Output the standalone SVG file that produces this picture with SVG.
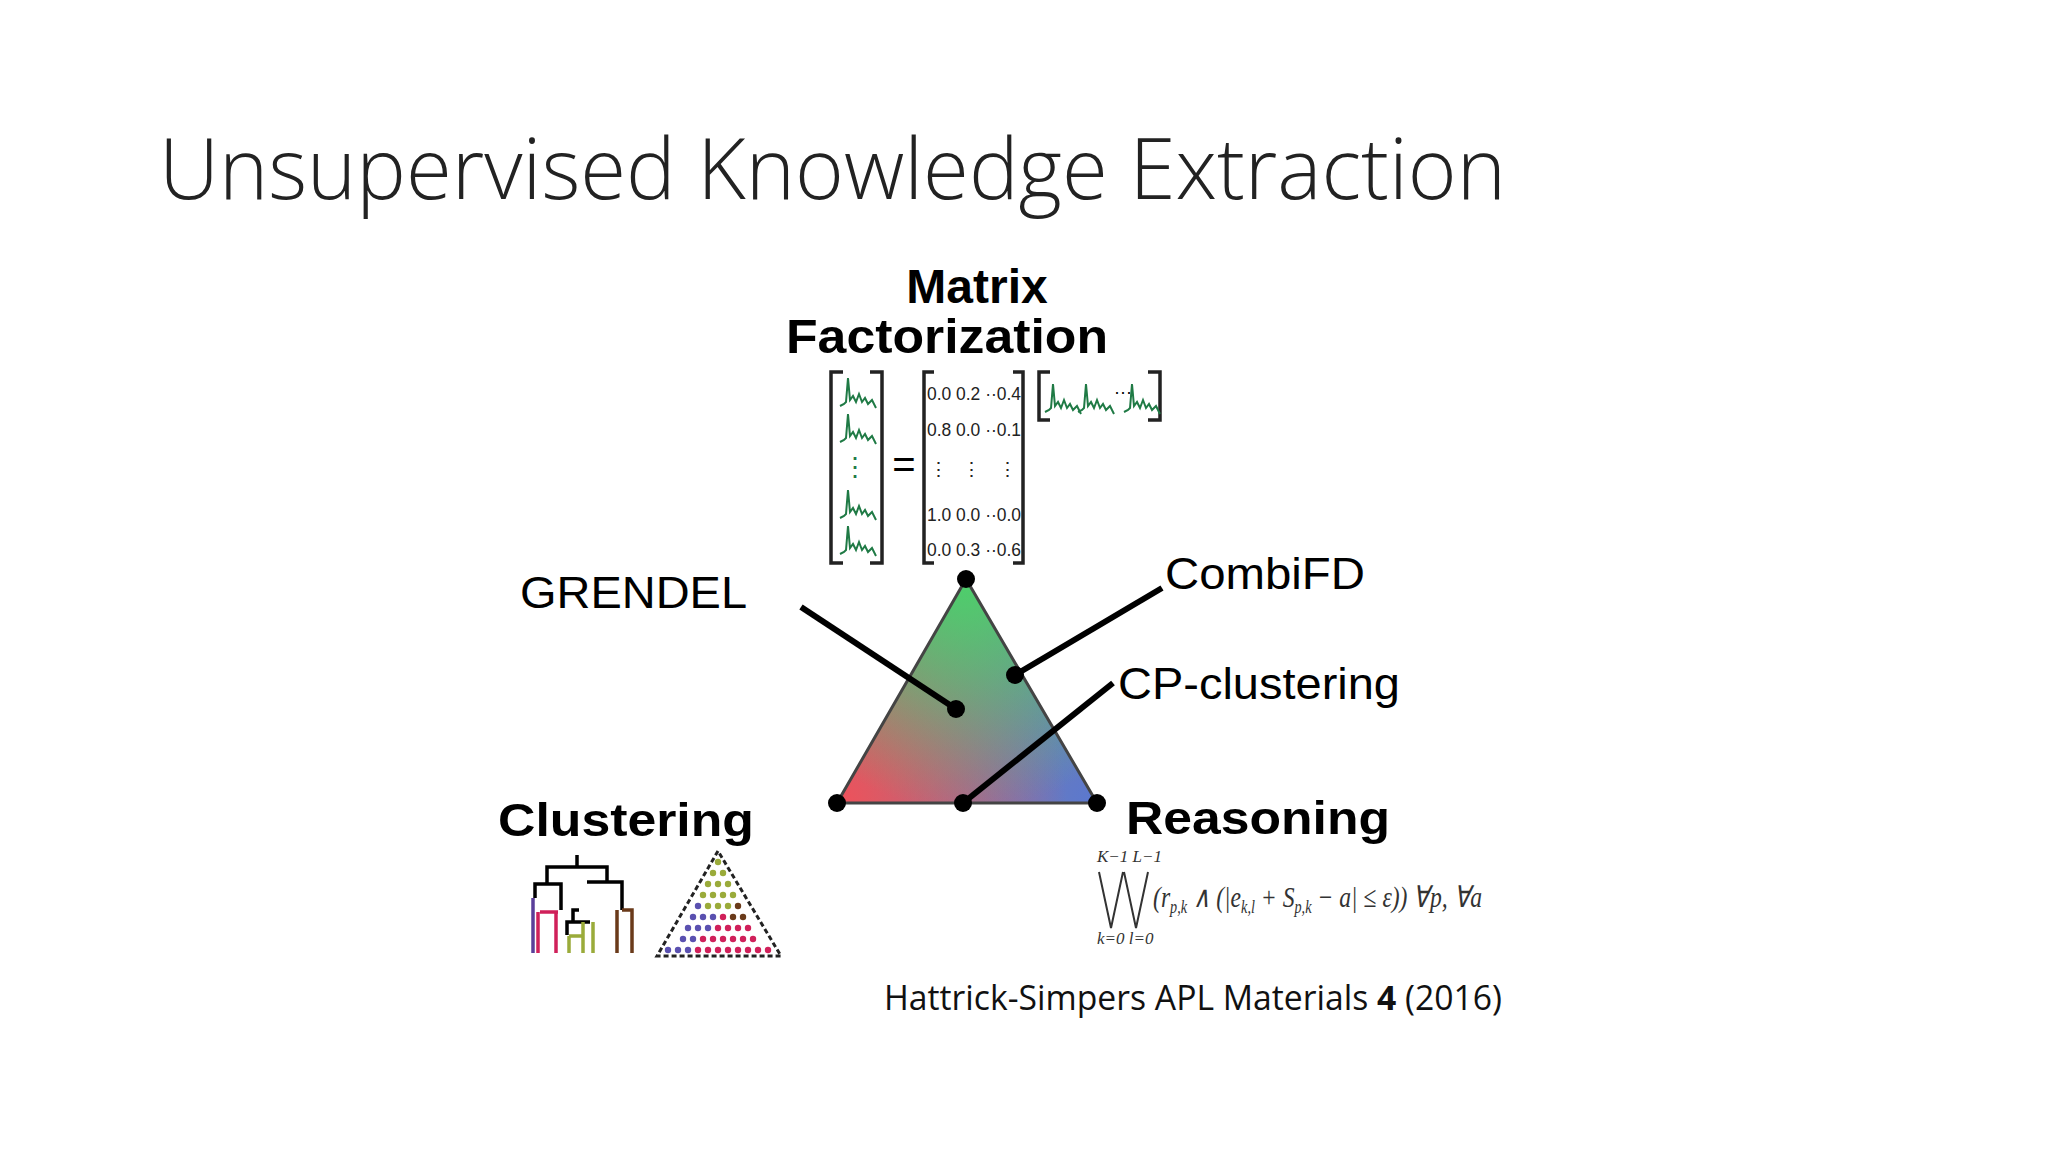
<svg xmlns="http://www.w3.org/2000/svg" width="2048" height="1152" viewBox="0 0 2048 1152">
<style>
.b{font-family:"Liberation Sans",Arial,sans-serif;font-weight:bold;fill:#000}
.r{font-family:"Liberation Sans",Arial,sans-serif;fill:#000}
.n{font-family:"Liberation Sans",sans-serif;font-size:19px;fill:#222}
.m{font-family:"Liberation Serif",serif;font-style:italic;fill:#333}
.ln{stroke:#000;stroke-width:6;fill:none}
.br{stroke:#222;stroke-width:3.5;fill:none}
.sp{stroke:#1f7a45;stroke-width:2;fill:none}
</style>
<defs>
<radialGradient id="gG" cx="966" cy="579" r="230" gradientUnits="userSpaceOnUse"><stop offset="0" stop-color="#4cd06a"/><stop offset="1" stop-color="#4cd06a" stop-opacity="0"/></radialGradient>
<radialGradient id="gR" cx="837" cy="803" r="230" gradientUnits="userSpaceOnUse"><stop offset="0" stop-color="#f0505a"/><stop offset="1" stop-color="#f0505a" stop-opacity="0"/></radialGradient>
<radialGradient id="gB" cx="1097" cy="803" r="230" gradientUnits="userSpaceOnUse"><stop offset="0" stop-color="#5a78d0"/><stop offset="1" stop-color="#5a78d0" stop-opacity="0"/></radialGradient>
<g id="spec"><path class="sp" d="M0,30 L4,28 6,26 8,2 10,24 13,20 16,26 19,18 22,26 25,22 28,28 32,24 36,32"/></g>
<circle id="d" r="3.2"/>
</defs>
<rect width="2048" height="1152" fill="#fff"/>
<text x="159" y="199" font-family="'Open Sans','Liberation Sans',sans-serif" font-weight="300" font-size="84" textLength="1347" lengthAdjust="spacingAndGlyphs" fill="#222">Unsupervised Knowledge Extraction</text>

<g id="matrix">
<text class="b" x="977" y="303" font-size="48" text-anchor="middle">Matrix</text>
<text class="b" x="947" y="353" font-size="48" text-anchor="middle" textLength="322" lengthAdjust="spacingAndGlyphs">Factorization</text>
<path class="br" d="M843,372 H831 V563 H843 M870,372 H882 V563 H870"/>
<use href="#spec" x="840" y="376"/><use href="#spec" x="840" y="412"/>
<text x="855" y="476" font-family="Liberation Sans" font-size="26" fill="#1f7a45" text-anchor="middle">⋮</text>
<use href="#spec" x="840" y="488"/><use href="#spec" x="840" y="524"/>
<text x="904" y="478" class="r" font-size="40" text-anchor="middle">=</text>
<path class="br" d="M934,372 H924 V563 H934 M1013,372 H1023 V563 H1013"/>
<text class="n" x="927" y="400" textLength="94" lengthAdjust="spacingAndGlyphs">0.0 0.2 ··0.4</text>
<text class="n" x="927" y="436" textLength="94" lengthAdjust="spacingAndGlyphs">0.8 0.0 ··0.1</text>
<text class="n" x="938" y="476" text-anchor="middle">⋮</text><text class="n" x="971" y="476" text-anchor="middle">⋮</text><text class="n" x="1007" y="476" text-anchor="middle">⋮</text>
<text class="n" x="927" y="521" textLength="94" lengthAdjust="spacingAndGlyphs">1.0 0.0 ··0.0</text>
<text class="n" x="927" y="556" textLength="94" lengthAdjust="spacingAndGlyphs">0.0 0.3 ··0.6</text>
<path class="br" d="M1050,372 H1039 V420 H1050 M1148,372 H1160 V420 H1148"/>
<use href="#spec" x="1045" y="382"/><use href="#spec" x="1078" y="382"/>
<text x="1114" y="398" font-size="18" class="r">···</text>
<use href="#spec" x="1124" y="382"/>
</g>

<g id="triangle">
<polygon points="966,579 837,803 1097,803" fill="#8a8090"/>
<polygon points="966,579 837,803 1097,803" fill="url(#gB)"/>
<polygon points="966,579 837,803 1097,803" fill="url(#gR)"/>
<polygon points="966,579 837,803 1097,803" fill="url(#gG)" stroke="#444" stroke-width="3"/>
</g>

<g id="connectors">
<line class="ln" x1="801" y1="607" x2="956" y2="709"/>
<line class="ln" x1="1162" y1="588" x2="1015" y2="675"/>
<line class="ln" x1="1113" y1="683" x2="963" y2="803"/>
<circle cx="966" cy="579" r="9"/><circle cx="837" cy="803" r="9"/><circle cx="1097" cy="803" r="9"/><circle cx="963" cy="803" r="9"/>
<circle cx="956" cy="709" r="9"/><circle cx="1015" cy="675" r="9"/>
</g>

<g id="labels">
<text class="r" x="520" y="608" font-size="44" textLength="227" lengthAdjust="spacingAndGlyphs">GRENDEL</text>
<text class="r" x="1165" y="589" font-size="44" textLength="200" lengthAdjust="spacingAndGlyphs">CombiFD</text>
<text class="r" x="1118" y="699" font-size="44" textLength="282" lengthAdjust="spacingAndGlyphs">CP-clustering</text>
<text class="b" x="498" y="836" font-size="47" textLength="256" lengthAdjust="spacingAndGlyphs">Clustering</text>
<text class="b" x="1126" y="834" font-size="47" textLength="264" lengthAdjust="spacingAndGlyphs">Reasoning</text>
</g>

<g id="dendrogram" stroke-width="3.5" fill="none">
<path stroke="#000" d="M577,855 V867 M547,884 V867 H607 V882 M535,898 V884 H561 V910 M587,882 H622 V910 M573,922 V910 H579 M567,935 V922 H590 V922"/>
<path stroke="#5a3f9a" d="M533,898 V953"/>
<path stroke="#d0205a" d="M538,912 V953 M556,912 V953 H556 M540,912 H558"/>
<path stroke="#9aab3a" d="M569,936 V953 M583,922 V953 M593,922 V953 M569,936 H583"/>
<path stroke="#6a3a1a" d="M622,910 H632 V953 M617,910 V953"/>
</g>

<g id="dottri">
<polygon points="718,851 657,956 781,956" fill="none" stroke="#222" stroke-width="3" stroke-dasharray="5,3"/>
<g fill="#9aab3a">
<use href="#d" x="718" y="862"/><use href="#d" x="713" y="873"/><use href="#d" x="723" y="873"/>
<use href="#d" x="708" y="884"/><use href="#d" x="718" y="884"/><use href="#d" x="728" y="884"/>
<use href="#d" x="703" y="895"/><use href="#d" x="713" y="895"/><use href="#d" x="723" y="895"/><use href="#d" x="733" y="895"/>
<use href="#d" x="708" y="906"/><use href="#d" x="718" y="906"/><use href="#d" x="728" y="906"/>
</g>
<g fill="#6a3a1a"><use href="#d" x="738" y="906"/><use href="#d" x="743" y="917"/><use href="#d" x="733" y="917"/></g>
<g fill="#5a50b0">
<use href="#d" x="698" y="906"/><use href="#d" x="693" y="917"/><use href="#d" x="703" y="917"/><use href="#d" x="713" y="917"/>
<use href="#d" x="688" y="928"/><use href="#d" x="698" y="928"/><use href="#d" x="708" y="928"/>
<use href="#d" x="683" y="939"/><use href="#d" x="693" y="939"/><use href="#d" x="678" y="950"/><use href="#d" x="688" y="950"/><use href="#d" x="668" y="950"/>
</g>
<g fill="#d0205a">
<use href="#d" x="723" y="917"/><use href="#d" x="718" y="928"/><use href="#d" x="728" y="928"/><use href="#d" x="738" y="928"/><use href="#d" x="748" y="928"/>
<use href="#d" x="703" y="939"/><use href="#d" x="713" y="939"/><use href="#d" x="723" y="939"/><use href="#d" x="733" y="939"/><use href="#d" x="743" y="939"/><use href="#d" x="753" y="939"/>
<use href="#d" x="698" y="950"/><use href="#d" x="708" y="950"/><use href="#d" x="718" y="950"/><use href="#d" x="728" y="950"/><use href="#d" x="738" y="950"/><use href="#d" x="748" y="950"/><use href="#d" x="758" y="950"/><use href="#d" x="768" y="950"/>
</g>
</g>

<g id="formula">
<text class="m" x="1097" y="862" font-size="17">K−1 L−1</text>
<path d="M1099,872 L1111,928 L1123,872 M1124,872 L1136,928 L1148,872" stroke="#333" stroke-width="2" fill="none"/>
<text class="m" x="1097" y="944" font-size="17">k=0 l=0</text>
<text class="m" x="1153" y="907" font-size="30" textLength="329" lengthAdjust="spacingAndGlyphs">(r<tspan font-size="18" dy="6">p,k</tspan><tspan dy="-6"> ∧ (|e</tspan><tspan font-size="18" dy="6">k,l</tspan><tspan dy="-6"> + S</tspan><tspan font-size="18" dy="6">p,k</tspan><tspan dy="-6"> − a| ≤ ε)) ∀p, ∀a</tspan></text>
</g>

<text x="884" y="1010" font-family="'Open Sans','Liberation Sans',sans-serif" font-size="34" textLength="618" lengthAdjust="spacingAndGlyphs" fill="#111">Hattrick-Simpers APL Materials <tspan font-weight="bold">4</tspan> (2016)</text>
</svg>
